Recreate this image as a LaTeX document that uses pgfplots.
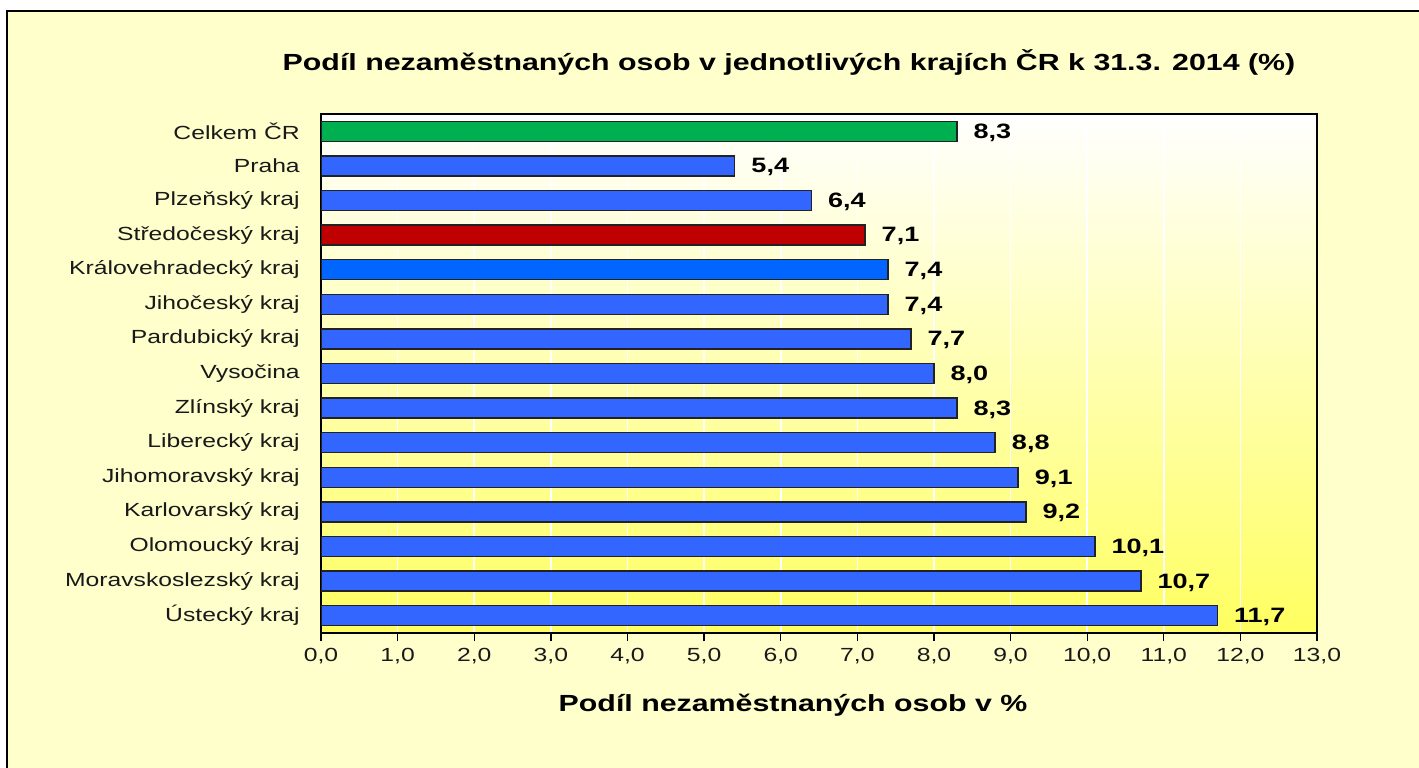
\documentclass[border=0pt]{standalone}
\usepackage{fontspec}
\setmainfont{Liberation Sans}[FakeStretch=1.3]
\usepackage{pgfplots}
\pgfplotsset{compat=1.18}
\definecolor{bgyel}{RGB}{255,255,204}
\definecolor{plotyel}{RGB}{255,255,96}
\definecolor{plotmid}{RGB}{255,255,200}
\definecolor{barblue}{RGB}{51,102,255}
\definecolor{barblue2}{RGB}{0,102,255}
\definecolor{bargreen}{RGB}{0,176,80}
\definecolor{barred}{RGB}{192,0,0}
\definecolor{bardraw}{RGB}{34,34,34}
\begin{document}
\begin{tikzpicture}
\begin{scope}[x=0.75bp,y=-0.75bp,shift={(0,575.25bp)}]
\path[use as bounding box] (0,0) rectangle (1419,767);
\fill[white] (0,0) rectangle (1419,767);
\filldraw[fill=bgyel, draw=black, line width=1.5bp] (7,11) rectangle (1430,780);
\end{scope}
\begin{axis}[
  at={(240.75bp,100.5bp)}, anchor=south west,
  scale only axis, width=747bp, height=389.25bp,
  xbar, bar shift=0pt, bar width=15bp,
  xmin=0, xmax=13, ymin=-0.5, ymax=14.5,
  xtick={0,...,13},
  ytick={0,...,14},
  yticklabels={Ústecký kraj, Moravskoslezský kraj, Olomoucký kraj, Karlovarský kraj, Jihomoravský kraj, Liberecký kraj, Zlínský kraj, Vysočina, Pardubický kraj, Jihočeský kraj, Královehradecký kraj, Středočeský kraj, Plzeňský kraj, Praha, Celkem ČR},
  minor ytick={-0.5,0.5,...,14.5},
  xtick pos=bottom, ytick pos=left,
  tick align=outside, major tick length=6bp, minor tick length=6bp,
  ytick style={draw=none},
  minor tick style={black, line width=1bp},
  xtick style={black, line width=1bp},
  xmajorgrids, major grid style={white, line width=1.2bp},
  axis line style={black, line width=1.5bp},
  axis background/.style={top color=white, middle color=plotmid, bottom color=plotyel},
  tick label style={font=\fontsize{14.25bp}{16bp}\selectfont, text=black!90},
  yticklabel style={anchor=east, inner sep=0pt, xshift=-9.75bp},
  xticklabel style={yshift=-2bp},
  /pgf/number format/assume math mode=true,
  /pgf/number format/use comma,
  /pgf/number format/fixed,
  /pgf/number format/fixed zerofill,
  /pgf/number format/precision=1,
  point meta=x,
  nodes near coords,
  nodes near coords style={font=\bfseries\fontsize{15.6bp}{17bp}\selectfont, anchor=west, inner sep=0pt, xshift=12bp, yshift=-1bp, text=black},
  every axis plot/.append style={draw=bardraw, line width=1.1bp},
]
\addplot[fill=barblue] coordinates {
(11.7,0) (10.7,1) (10.1,2) (9.2,3) (9.1,4) (8.8,5) (8.3,6) (8.0,7) (7.7,8) (7.4,9) (6.4,12) (5.4,13)
};
\addplot[fill=barblue2] coordinates {(7.4,10)};
\addplot[fill=barred] coordinates {(7.1,11)};
\addplot[fill=bargreen] coordinates {(8.3,14)};
\end{axis}
\begin{scope}[x=0.75bp,y=-0.75bp,shift={(0,575.25bp)}]
\node[font=\bfseries\fontsize{17.5bp}{20bp}\selectfont, inner sep=0pt] at (789,62) {Podíl nezaměstnaných osob v jednotlivých krajích ČR k 31.3. 2014 (\%)};
\node[font=\bfseries\fontsize{17.5bp}{20bp}\selectfont, inner sep=0pt] at (793,705) {Podíl nezaměstnaných osob v \%};
\end{scope}
\end{tikzpicture}
\end{document}
